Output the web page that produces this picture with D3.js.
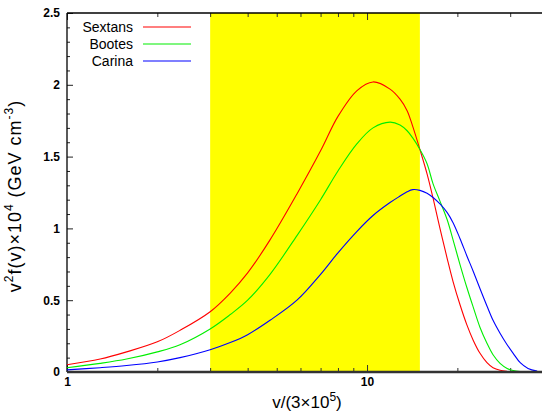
<!DOCTYPE html>
<html>
<head>
<meta charset="UTF-8">
<script src="https://d3js.org/d3.v7.min.js"></script>
<style>
    body {
        margin: 0;
        background: #fff;
        font-family: "Liberation Sans", Arial, sans-serif;
    }
    .tick text {
        font-family: "Liberation Sans", Arial, sans-serif;
        font-weight: bold;
        font-size: 12px;
        fill: #000;
    }
</style>
</head>
<body>
<svg id="main" width="542" height="412"></svg>
<script>
    // velocity grid, v/(3x10^5)
    var vGrid = [1, 1.29, 1.58, 2, 2.38, 3, 3.5, 4, 4.75, 5.84, 7, 8, 9.26, 10.47, 11.93, 12.88, 13.6, 14.2, 15, 15.85,
        16.6, 17.5, 18.5, 19.35, 20.4, 21.5, 22.6, 23.8, 25.1, 26.3, 27.75, 29.3, 30.7, 32.4, 34.4, 36.9];
    // v^2 f(v) x 10^4 for each galaxy
    var sextans = [0.05, 0.09, 0.14, 0.21, 0.29, 0.42, 0.55, 0.69, 0.92, 1.24, 1.54, 1.78, 1.96, 2.02, 1.97, 1.90, 1.82, 1.71, 1.55, 1.38,
        1.21, 1.00, 0.79, 0.63, 0.47, 0.33, 0.22, 0.13, 0.065, 0.03, 0.012, 0.004, 0.001, 0, 0, 0];
    var bootes = [0.03, 0.06, 0.09, 0.14, 0.19, 0.30, 0.40, 0.50, 0.68, 0.95, 1.20, 1.40, 1.59, 1.70, 1.74, 1.72, 1.68, 1.63, 1.55, 1.45,
        1.31, 1.19, 1.06, 0.92, 0.75, 0.59, 0.45, 0.31, 0.20, 0.12, 0.06, 0.025, 0.01, 0.003, 0.001, 0];
    var carina = [0.015, 0.03, 0.045, 0.07, 0.10, 0.155, 0.205, 0.26, 0.36, 0.50, 0.68, 0.83, 0.98, 1.09, 1.18, 1.225, 1.255, 1.27, 1.265, 1.245,
        1.215, 1.17, 1.11, 1.04, 0.93, 0.81, 0.70, 0.58, 0.46, 0.36, 0.27, 0.19, 0.13, 0.065, 0.025, 0.006];

    var names = ["Sextans", "Bootes", "Carina"];
    var colors = ["#ff0000", "#00ee00", "#0000ff"];
    var band = [3, 15];

    var xTicks = [1, 2, 3, 4, 5, 6, 7, 8, 9, 10, 20, 30];
    var xMajor = [1, 10];
    var yMajor = [0, 0.5, 1, 1.5, 2, 2.5];
    var yMinor = [0.1, 0.2, 0.3, 0.4, 0.6, 0.7, 0.8, 0.9, 1.1, 1.2, 1.3, 1.4, 1.6, 1.7, 1.8, 1.9, 2.1, 2.2, 2.3, 2.4];

    var svg = d3.select("#main");
    var pLeft = 67, pRight = 541, pTop = 13, pBottom = 372;

    var x = d3.scaleLog().domain([1, 38]).range([pLeft, pRight]);
    var y = d3.scaleLinear().domain([0, 2.5]).range([pBottom, pTop]);

    // shaded velocity band
    svg.append("rect")
        .attr("x", x(band[0]))
        .attr("y", pTop)
        .attr("width", x(band[1]) - x(band[0]))
        .attr("height", pBottom - pTop)
        .attr("fill", "#ffff00");

    // bottom axis, ticks inward
    var xb = svg.append("g")
        .attr("transform", "translate(0," + pBottom + ")")
        .call(d3.axisBottom(x)
            .tickValues(xTicks)
            .tickSize(-4)
            .tickPadding(5)
            .tickFormat(d => xMajor.indexOf(d) >= 0 ? d : ""));
    xb.select(".domain").remove();
    xb.selectAll(".tick line")
        .attr("y2", d => xMajor.indexOf(d) >= 0 ? -7 : -4)
        .attr("stroke", "#333");

    // top axis mirror
    var xt = svg.append("g")
        .attr("transform", "translate(0," + pTop + ")")
        .call(d3.axisTop(x)
            .tickValues(xTicks)
            .tickSize(-4)
            .tickFormat(""));
    xt.select(".domain").remove();
    xt.selectAll(".tick line")
        .attr("y2", d => xMajor.indexOf(d) >= 0 ? 7 : 4)
        .attr("stroke", "#333");

    // left axis
    var yl = svg.append("g")
        .attr("transform", "translate(" + pLeft + ",0)")
        .call(d3.axisLeft(y)
            .tickValues(yMajor.concat(yMinor))
            .tickSize(-3)
            .tickPadding(7)
            .tickFormat(d => yMajor.indexOf(d) >= 0 ? d3.format("")(d) : ""));
    yl.select(".domain").remove();
    yl.selectAll(".tick line")
        .attr("x2", d => yMajor.indexOf(d) >= 0 ? 6 : 3)
        .attr("stroke", "#222");

    // frame lines
    svg.append("line")
        .attr("x1", pLeft).attr("x2", pRight + 1)
        .attr("y1", pTop).attr("y2", pTop)
        .attr("stroke", "#000").attr("stroke-width", 1.3);
    svg.append("line")
        .attr("x1", pLeft).attr("x2", pLeft)
        .attr("y1", pTop).attr("y2", pBottom)
        .attr("stroke", "#000").attr("stroke-width", 1.3);

    // curves
    var line = d3.line()
        .x(d => x(d[0]))
        .y(d => y(d[1]))
        .curve(d3.curveCatmullRom.alpha(0.5));

    [sextans, bootes, carina].forEach(function(vals, i) {
        svg.append("path")
            .datum(vGrid.map((v, j) => [v, vals[j]]))
            .attr("d", line)
            .attr("fill", "none")
            .attr("stroke", colors[i])
            .attr("stroke-width", 1.1);
    });

    svg.append("line")
        .attr("x1", pLeft).attr("x2", pRight + 1)
        .attr("y1", pBottom).attr("y2", pBottom)
        .attr("stroke", "#333").attr("stroke-width", 2.6);

    // legend
    var legend = svg.append("g");
    names.forEach(function(n, i) {
        var ly = 27 + i * 17;
        legend.append("text")
            .attr("x", 133).attr("y", ly)
            .attr("dy", "0.35em")
            .attr("text-anchor", "end")
            .style("font-size", "14px")
            .text(n);
        legend.append("line")
            .attr("x1", 143).attr("x2", 191)
            .attr("y1", ly).attr("y2", ly)
            .attr("stroke", colors[i])
            .attr("stroke-width", 1.2);
    });

    // x title
    var xt2 = svg.append("text")
        .attr("x", 307).attr("y", 408)
        .attr("text-anchor", "middle")
        .style("font-size", "17px");
    xt2.append("tspan").text("v/(3\u00d710");
    xt2.append("tspan").attr("dy", -7).style("font-size", "12px").text("5");
    xt2.append("tspan").attr("dy", 7).text(")");

    // y title
    var yt = svg.append("text")
        .attr("transform", "translate(21,196) rotate(-90)")
        .attr("text-anchor", "middle")
        .style("font-size", "18px")
        .style("letter-spacing", "1px");
    yt.append("tspan").text("v");
    yt.append("tspan").attr("dy", -8).style("font-size", "12px").text("2");
    yt.append("tspan").attr("dy", 8).text("f(v)\u00d710");
    yt.append("tspan").attr("dy", -8).style("font-size", "12px").text("4");
    yt.append("tspan").attr("dy", 8).text(" (GeV cm");
    yt.append("tspan").attr("dy", -8).style("font-size", "12px").text("-3");
    yt.append("tspan").attr("dy", 8).text(")");
</script>
</body>
</html>
